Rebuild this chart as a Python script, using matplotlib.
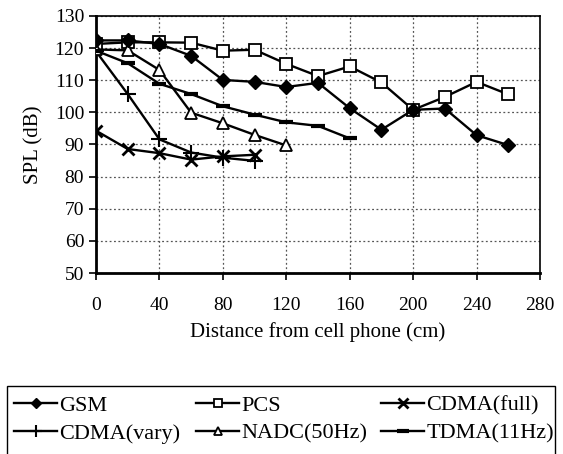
import matplotlib
matplotlib.use("Agg")
import matplotlib.pyplot as plt
from matplotlib.patches import Rectangle

plt.rcParams['font.family'] = ['Liberation Serif', 'DejaVu Serif']

x_gsm = [0, 20, 40, 60, 80, 100, 120, 140, 160, 180, 200, 220, 240, 260]
gsm = [122.4, 122.4, 121.3, 117.6, 110.1, 109.5, 107.9, 109.2, 101.3, 94.6, 100.8, 101.2, 92.9, 89.8]
x_pcs = [0, 20, 40, 60, 80, 100, 120, 140, 160, 180, 200, 220, 240, 260]
pcs = [121.3, 121.8, 121.8, 121.7, 119.2, 119.5, 115.1, 111.3, 114.3, 109.3, 100.8, 104.8, 109.5, 105.6]
x_cfull = [0, 20, 40, 60, 80, 100]
cfull = [94.3, 88.6, 87.3, 85.3, 86.3, 86.8]
x_cvary = [0, 20, 40, 60, 80, 100]
cvary = [119.0, 105.7, 91.6, 87.5, 85.9, 84.9]
x_nadc = [0, 20, 40, 60, 80, 100, 120]
nadc = [119.6, 119.3, 113.2, 99.9, 96.6, 93.0, 89.7]
x_tdma = [0, 20, 40, 60, 80, 100, 120, 140, 160]
tdma = [119.2, 115.3, 108.9, 105.7, 101.9, 99.3, 96.9, 95.8, 91.9]

xticks = [0, 40, 80, 120, 160, 200, 240, 280]
yticks = [50, 60, 70, 80, 90, 100, 110, 120, 130]

W, H = 563, 454
fig = plt.figure(figsize=(W/100, H/100), dpi=100)
ax = fig.add_axes([96/W, 1-273/H, (540-96)/W, (273-16)/H])

lw = 1.7
h_gsm, = ax.plot(x_gsm, gsm, color='black', lw=lw, marker='D', ms=7, mfc='black', mec='black', label='GSM', zorder=5)
h_pcs, = ax.plot(x_pcs, pcs, color='black', lw=lw, marker='s', ms=8, mfc='white', mec='black', mew=1.3, label='PCS', zorder=4)
h_cf, = ax.plot(x_cfull, cfull, color='black', lw=lw, marker='x', ms=9, mew=2, label='CDMA(full)', zorder=4)
h_cv, = ax.plot(x_cvary, cvary, color='black', lw=lw, marker='+', ms=11, mew=1.5, label='CDMA(vary)', zorder=4)
h_na, = ax.plot(x_nadc, nadc, color='black', lw=lw, marker='^', ms=8, mfc='white', mec='black', mew=1.3, label='NADC(50Hz)', zorder=4)
h_td, = ax.plot(x_tdma, tdma, color='black', lw=lw, marker='_', ms=10, mew=3, label='TDMA(11Hz)', zorder=4)

ax.set_xlim(0, 280)
ax.set_ylim(50, 130)
ax.set_xticks(xticks)
ax.set_yticks(yticks)
ax.tick_params(axis='both', labelsize=14, direction='out', length=5, width=1.2, color='black')
ax.tick_params(axis='x', pad=12)
ax.grid(True, linestyle=(0, (1.5, 2)), color='#555555', lw=0.9)
for s in ['left', 'bottom']:
    ax.spines[s].set_linewidth(2)
for s in ['top', 'right']:
    ax.spines[s].set_linewidth(1.2)

ax.set_xlabel('Distance from cell phone (cm)', fontsize=15, labelpad=6)
ax.set_ylabel('SPL (dB)', fontsize=15, labelpad=8)

# legend frame (bottom edge runs past the figure as in the reference)
fig.add_artist(Rectangle((7/W, -0.05), (555-7)/W, 0.05 + 1-386/H, transform=fig.transFigure,
                         fill=False, edgecolor='black', lw=1.0))

columns = [([h_gsm, h_cv], 14), ([h_pcs, h_na], 196), ([h_cf, h_td], 381)]
for hs, xpix in columns:
    lg = fig.legend(hs, [h.get_label() for h in hs], loc='upper left',
                    bbox_to_anchor=(xpix/W, 1-395/H), frameon=False, fontsize=16,
                    borderaxespad=0, borderpad=0, handlelength=1.95, handletextpad=0.1,
                    labelspacing=0.35, markerscale=0.8)

fig.savefig('out.png', dpi=100)
